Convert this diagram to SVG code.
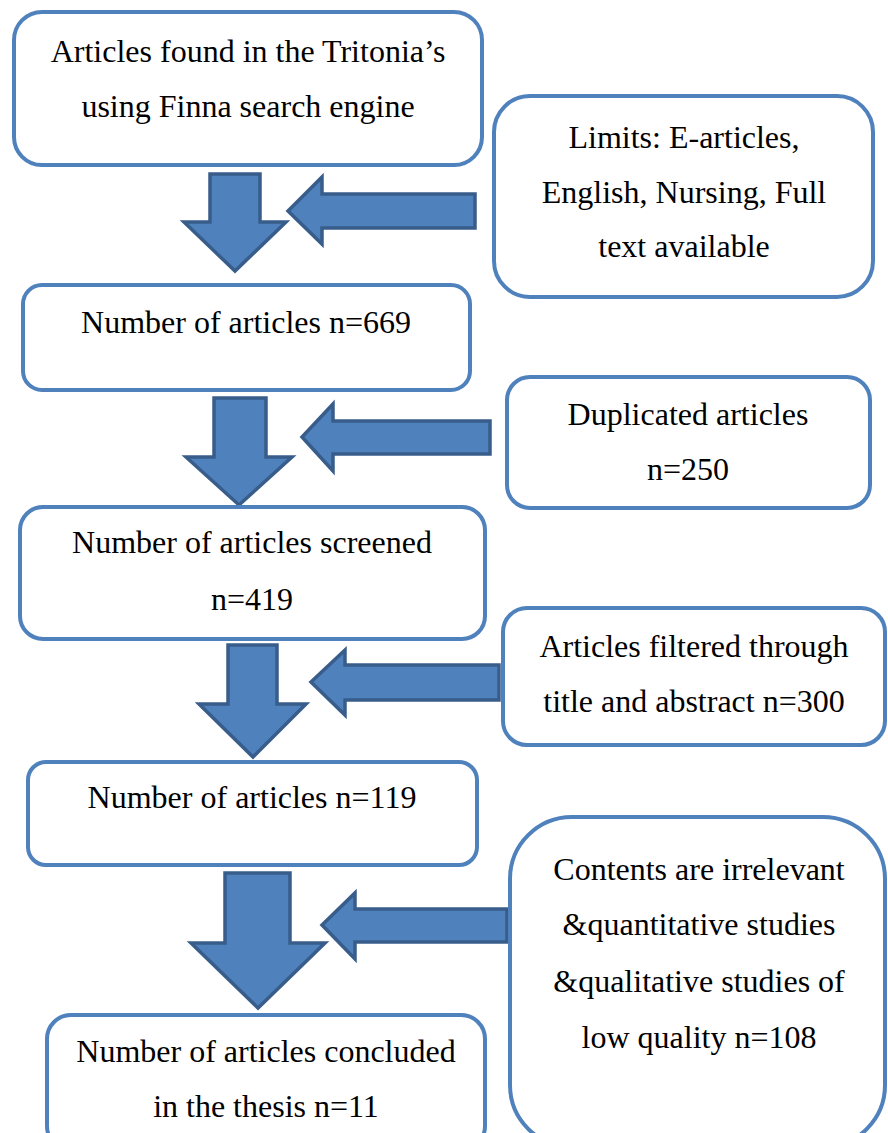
<svg xmlns="http://www.w3.org/2000/svg" width="888" height="1133" viewBox="0 0 888 1133">
  <style>
    .box { fill: #FFFFFF; stroke: #4F81BD; stroke-width: 4; }
    .arrow { fill: #4F81BD; stroke: #385D8A; stroke-width: 3.5; stroke-linejoin: miter; }
    .label { font-family: "Liberation Serif", "Times New Roman", serif; font-size: 32px; fill: #000000; text-anchor: middle; }
  </style>
  <rect width="888" height="1133" fill="#FFFFFF"/>

  <!-- flow arrows (block shapes) -->
  <g id="connectors">
    <!-- downward block arrows between main steps -->
    <polygon class="arrow" points="210,174 260,174 260,222 286,222 235,271 184,222 210,222"/>
    <polygon class="arrow" points="214,398 266,398 266,457 292,457 239,505 186,457 214,457"/>
    <polygon class="arrow" points="228,645 277,645 277,704 306,704 253,757 199,704 228,704"/>
    <polygon class="arrow" points="225,873 290,873 290,943 325,943 258,1008 191,943 225,943"/>
    <!-- leftward block arrows from exclusion boxes -->
    <polygon class="arrow" points="475,194 475,228 322,228 322,244 288,211 322,177 322,194"/>
    <polygon class="arrow" points="490,421 490,454 333,454 333,471 302,437 333,404 333,421"/>
    <polygon class="arrow" points="499,665 499,700 345,700 345,715 311,682 345,650 345,665"/>
    <polygon class="arrow" points="507,909 507,942 355,942 355,959 322,925 355,893 355,909"/>
  </g>

  <g id="found">
    <rect class="box" x="14" y="12" width="468" height="153" rx="28"/>
    <text class="label" x="248" y="62">Articles found in the Tritonia’s</text>
    <text class="label" x="248" y="117">using Finna search engine</text>
  </g>

  <g id="limits">
    <rect class="box" x="494" y="96" width="379" height="201" rx="36"/>
    <text class="label" x="684" y="148">Limits: E-articles,</text>
    <text class="label" x="684" y="203">English, Nursing, Full</text>
    <text class="label" x="684" y="257">text available</text>
  </g>

  <g id="n669">
    <rect class="box" x="23" y="285" width="447" height="105" rx="19"/>
    <text class="label" x="246" y="333">Number of articles n=669</text>
  </g>

  <g id="duplicated">
    <rect class="box" x="507" y="377" width="363" height="131" rx="23"/>
    <text class="label" x="688" y="425">Duplicated articles</text>
    <text class="label" x="688" y="480">n=250</text>
  </g>

  <g id="screened">
    <rect class="box" x="20" y="507" width="465" height="132" rx="23"/>
    <text class="label" x="252" y="553">Number of articles screened</text>
    <text class="label" x="252" y="610">n=419</text>
  </g>

  <g id="filtered">
    <rect class="box" x="503" y="608" width="382" height="137" rx="24"/>
    <text class="label" x="694" y="657">Articles filtered through</text>
    <text class="label" x="694" y="712">title and abstract n=300</text>
  </g>

  <g id="n119">
    <rect class="box" x="28" y="762" width="449" height="103" rx="18"/>
    <text class="label" x="252" y="808">Number of articles n=119</text>
  </g>

  <g id="irrelevant">
    <rect class="box" x="510" y="817" width="375" height="330" rx="62"/>
    <text class="label" x="699" y="880">Contents are irrelevant</text>
    <text class="label" x="699" y="935">&amp;quantitative studies</text>
    <text class="label" x="699" y="992">&amp;qualitative studies of</text>
    <text class="label" x="699" y="1048">low quality n=108</text>
  </g>

  <g id="concluded">
    <rect class="box" x="47" y="1015" width="438" height="135" rx="24"/>
    <text class="label" x="266" y="1062">Number of articles concluded</text>
    <text class="label" x="266" y="1117">in the thesis n=11</text>
  </g>
</svg>
